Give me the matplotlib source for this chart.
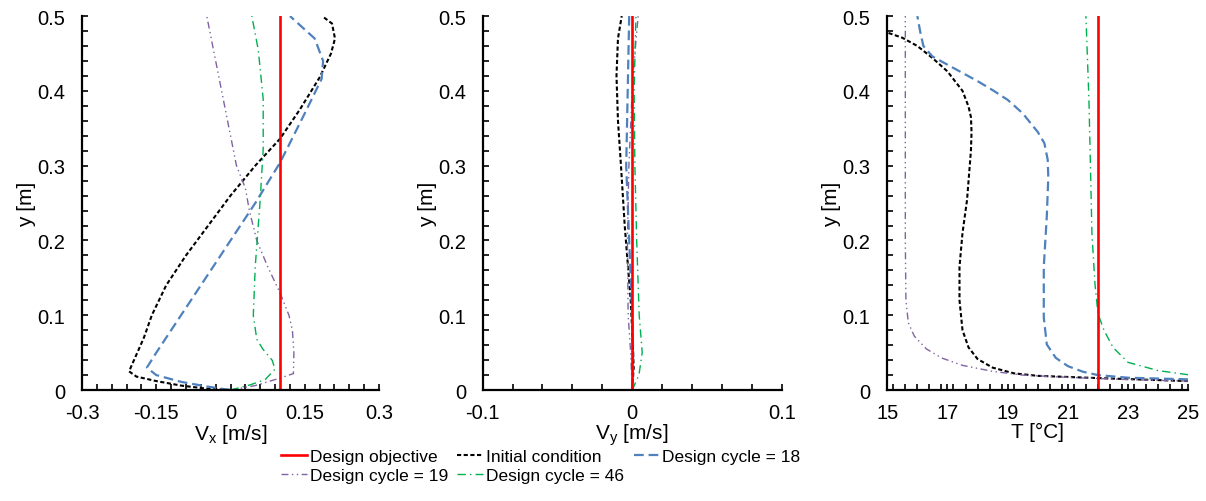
"""Vertical profiles of Vx, Vy and T for the design cycles."""

import matplotlib

matplotlib.use("Agg")

import matplotlib.pyplot as plt
from matplotlib.ticker import FixedLocator, MultipleLocator

plt.rcParams["font.family"] = ["Liberation Sans", "DejaVu Sans"]
plt.rcParams["mathtext.fontset"] = "custom"
plt.rcParams["mathtext.rm"] = "Liberation Sans"
plt.rcParams["mathtext.it"] = "Liberation Sans:italic"
plt.rcParams["lines.scale_dashes"] = False

# ---- Vx profiles [m/s] vs height [m] ----
vx_objective = 0.1
vx_init_v = [0.0, -0.05, -0.1, -0.15, -0.19, -0.205, -0.195, -0.175, -0.159, -0.13,
             -0.09, -0.045, 0.0, 0.05, 0.1, 0.14, 0.18, 0.203, 0.211, 0.205, 0.185]
vx_init_y = [0.0, 0.002, 0.006, 0.012, 0.018, 0.025, 0.04, 0.07, 0.1, 0.14,
             0.18, 0.22, 0.26, 0.3, 0.336, 0.375, 0.418, 0.45, 0.47, 0.49, 0.5]
vx_c18_v = [0.0, -0.05, -0.1, -0.15, -0.169, -0.15, -0.11, -0.07, 0.0, 0.05,
            0.1, 0.15, 0.184, 0.187, 0.17, 0.12]
vx_c18_y = [0.0, 0.005, 0.011, 0.02, 0.03, 0.05, 0.09, 0.13, 0.2, 0.25,
            0.304, 0.37, 0.416, 0.44, 0.47, 0.5]
vx_c19_v = [0.0, 0.05, 0.1, 0.127, 0.128, 0.125, 0.118, 0.1, 0.075, 0.053,
            0.038, 0.03, 0.012, -0.018, -0.048]
vx_c19_y = [0.0, 0.006, 0.016, 0.022, 0.05, 0.08, 0.1, 0.13, 0.165, 0.2,
            0.24, 0.27, 0.3, 0.4, 0.5]
vx_c46_v = [0.0, 0.04, 0.07, 0.09, 0.084, 0.065, 0.053, 0.046, 0.05, 0.06,
            0.066, 0.066, 0.056, 0.043]
vx_c46_y = [0.0, 0.007, 0.014, 0.028, 0.04, 0.055, 0.068, 0.1, 0.166, 0.255,
            0.322, 0.389, 0.455, 0.5]

# ---- Vy profiles [m/s] vs height [m] ----
vy_objective = 0.0
vy_init_v = [0.0, 0.001, 0.0, -0.001, -0.003, -0.005, -0.0075, -0.0095, -0.0105, -0.0095, -0.007]
vy_init_y = [0.0, 0.03, 0.08, 0.12, 0.17, 0.22, 0.3, 0.36, 0.42, 0.47, 0.5]
vy_c18_v = [0.0, 0.0007, 0.0, -0.002, -0.004, -0.003, -0.002]
vy_c18_y = [0.0, 0.05, 0.1, 0.2, 0.3, 0.4, 0.5]
vy_c19_v = [0.0, -0.001, -0.0027, -0.0032, -0.0022, 0.0, 0.0018, 0.004]
vy_c19_y = [0.0, 0.05, 0.1, 0.2, 0.3, 0.4, 0.45, 0.5]
vy_c46_v = [0.0, 0.0045, 0.0067, 0.0047, 0.003, 0.0018, 0.0013, 0.0025]
vy_c46_y = [0.0, 0.02, 0.05, 0.1, 0.2, 0.3, 0.4, 0.5]

# ---- Temperature profiles [degC] vs height [m] ----
t_objective = 22.0
t_init_v = [25.0, 22.0, 20.0, 19.2, 18.5, 18.0, 17.7, 17.5, 17.4, 17.4, 17.5, 17.65,
            17.78, 17.8, 17.78, 17.7, 17.5, 17.0, 16.5, 16.0, 15.5, 15.0]
t_init_y = [0.012, 0.016, 0.019, 0.0224, 0.03, 0.0415, 0.057, 0.08, 0.12, 0.165, 0.21, 0.254,
            0.32, 0.345, 0.365, 0.379, 0.4, 0.426, 0.444, 0.46, 0.471, 0.478]
t_c18_v = [25.0, 23.0, 22.0, 21.5, 21.0, 20.6, 20.3, 20.2, 20.2, 20.3, 20.35, 20.33,
           20.22, 20.0, 19.5, 19.0, 18.5, 18.0, 17.5, 17.0, 16.5, 16.2, 16.1, 16.0]
t_c18_y = [0.0143, 0.0165, 0.02, 0.0245, 0.032, 0.043, 0.061, 0.097, 0.165, 0.232, 0.285, 0.308,
           0.33, 0.345, 0.37, 0.388, 0.401, 0.413, 0.424, 0.435, 0.446, 0.46, 0.478, 0.5]
t_c19_v = [25.0, 23.0, 21.0, 19.5, 18.5, 17.5, 16.8, 16.3, 15.9, 15.7, 15.62, 15.6, 15.6]
t_c19_y = [0.012, 0.014, 0.017, 0.02, 0.025, 0.033, 0.043, 0.055, 0.072, 0.09, 0.12, 0.2, 0.5]
t_c46_v = [25.0, 24.0, 23.0, 22.5, 22.2, 22.0, 21.9, 21.8, 21.75, 21.7, 21.6]
t_c46_y = [0.0205, 0.026, 0.037, 0.057, 0.08, 0.102, 0.142, 0.209, 0.3, 0.388, 0.5]

vx_ticks = [-0.3, -0.15, 0, 0.15, 0.3]
vy_ticks = [-0.1, 0, 0.1]
t_ticks = [15, 17, 19, 21, 23, 25]

SERIES_LABELS = ["Design objective", "Initial condition", "Design cycle = 18",
                 "Design cycle = 19", "Design cycle = 46"]

STYLES = {
    "obj": dict(color="#FF0000", lw=1.9, linestyle="-"),
    "init": dict(color="black", lw=1.5, dashes=(3.0, 1.8)),
    "c18": dict(color="#4F81BD", lw=1.6, dashes=(7.0, 3.5)),
    "c19": dict(color="#8064A2", lw=1.0, dashes=(5.0, 2.5, 1.0, 2.5, 1.0, 2.5)),
    "c46": dict(color="#00B050", lw=1.0, dashes=(6.0, 3.0, 1.0, 3.0)),
}

PANELS = [
    dict(rect=[0.068, 0.221, 0.2463, 0.745], xlim=(-0.3, 0.3), ticks=vx_ticks, minor=0.03,
         xlabel=r"V$_\mathregular{x}$ [m/s]", obj=vx_objective,
         curves=[(vx_init_v, vx_init_y), (vx_c18_v, vx_c18_y),
                 (vx_c19_v, vx_c19_y), (vx_c46_v, vx_c46_y)]),
    dict(rect=[0.4002, 0.221, 0.248, 0.745], xlim=(-0.1, 0.1), ticks=vy_ticks, minor=0.02,
         xlabel=r"V$_\mathregular{y}$ [m/s]", obj=vy_objective,
         curves=[(vy_init_v, vy_init_y), (vy_c18_v, vy_c18_y),
                 (vy_c19_v, vy_c19_y), (vy_c46_v, vy_c46_y)]),
    dict(rect=[0.7357, 0.221, 0.2496, 0.745], xlim=(15, 25), ticks=t_ticks, minor=0.4,
         xlabel="T [°C]", obj=t_objective,
         curves=[(t_init_v, t_init_y), (t_c18_v, t_c18_y),
                 (t_c19_v, t_c19_y), (t_c46_v, t_c46_y)]),
]


def draw_panel(fig, panel):
    ax = fig.add_axes(panel["rect"])
    handles = []
    keys = ["init", "c18", "c19", "c46"]
    for key, (xs, ys) in zip(keys, panel["curves"]):
        (line,) = ax.plot(xs, ys, **STYLES[key])
        handles.append(line)
    (obj_line,) = ax.plot([panel["obj"], panel["obj"]], [0.0, 0.5], **STYLES["obj"])
    handles.insert(0, obj_line)

    ax.set_xlim(*panel["xlim"])
    ax.set_ylim(0, 0.5)
    ax.xaxis.set_major_locator(FixedLocator(panel["ticks"]))
    ax.xaxis.set_minor_locator(MultipleLocator(panel["minor"]))
    ax.yaxis.set_major_locator(MultipleLocator(0.1))
    ax.yaxis.set_minor_locator(MultipleLocator(0.02))
    ax.xaxis.set_major_formatter(plt.FuncFormatter(lambda v, _: f"{round(v, 3):g}"))
    ax.yaxis.set_major_formatter(plt.FuncFormatter(lambda v, _: f"{round(v, 2):g}"))

    for side in ("top", "right"):
        ax.spines[side].set_visible(False)
    for side in ("left", "bottom"):
        ax.spines[side].set_linewidth(1.6)

    ax.tick_params(which="both", direction="in", length=4, width=1.2, labelsize=14.5)
    ax.tick_params(axis="x", which="major", pad=9)
    ax.tick_params(axis="y", which="major", pad=12)
    ax.set_xlabel(panel["xlabel"], fontsize=15, labelpad=0)
    ax.set_ylabel("y [m]", fontsize=15, labelpad=1)
    return handles


fig = plt.figure(figsize=(12.06, 5.02), dpi=100)
handles = None
for panel in PANELS:
    handles = draw_panel(fig, panel)

# row-major order for a 3-column legend
order = [0, 3, 1, 4, 2]
fig.legend(
    [handles[i] for i in order],
    [SERIES_LABELS[i] for i in order],
    loc="upper left",
    bbox_to_anchor=(0.233, 0.104),
    ncol=3,
    frameon=False,
    fontsize=12.5,
    handlelength=1.5,
    handletextpad=0.15,
    columnspacing=0.55,
    labelspacing=0.22,
    borderpad=0,
    borderaxespad=0,
)

fig.savefig("out.png", dpi=100)
